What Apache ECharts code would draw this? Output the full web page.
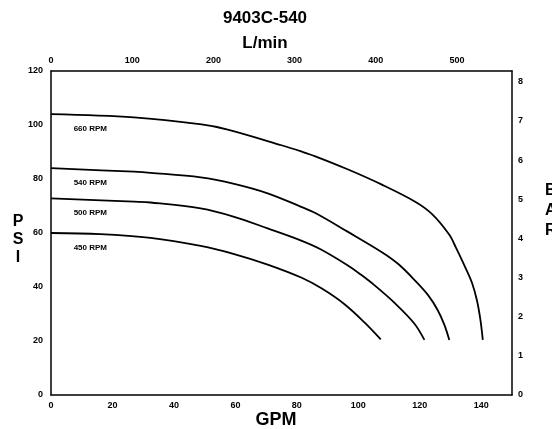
<!DOCTYPE html>
<html>
<head>
<meta charset="utf-8">
<script src="https://cdn.jsdelivr.net/npm/echarts@6/dist/echarts.min.js"></script>
<style>
  html, body { margin: 0; padding: 0; background: #fff; }
  #chart { width: 552px; height: 429px; }
</style>
</head>
<body>
<div id="chart"></div>
<script>
// pump curves: flow in GPM, pressure in PSI
const flow660 = [0, 27, 49, 57.5, 75, 81.4, 86, 96.5, 107.5, 118.5, 124, 129.5, 131.8, 134.5, 137, 138.6, 139.7, 140.5];
const psi660 = [104, 102.8, 100.2, 98.3, 92.5, 90.2, 88.4, 83.6, 78, 71.6, 67, 59.5, 54.5, 48, 41.5, 35, 28, 20.4];

const flow540 = [0, 27, 32.4, 48.7, 59.6, 70.5, 81.4, 86, 96.5, 107.8, 113, 118.8, 122.7, 125.8, 128, 129.6];
const psi540 = [84, 82.7, 82.3, 80.6, 78.2, 74.7, 69.7, 67.4, 60.5, 52.8, 48.5, 42, 37, 31.5, 26, 20.4];

const flow500 = [0, 27, 32.4, 48.7, 59.6, 70.5, 81.4, 87.7, 96.6, 100.8, 105.3, 111.7, 118.2, 121.5];
const psi500 = [72.8, 71.6, 71.3, 69.1, 66, 61.7, 57.2, 54, 48, 44.6, 40.6, 34.2, 26.5, 20.4];

const flow450 = [0, 16, 32.4, 48.7, 59.6, 70.5, 81.4, 88, 95.3, 101.9, 107.3];
const psi450 = [60, 59.6, 58.2, 55.2, 52.2, 48.3, 43.5, 39.5, 33.8, 27, 20.6];

const rpmNames = ['660 RPM', '540 RPM', '500 RPM', '450 RPM'];
const curves = [[flow660, psi660], [flow540, psi540], [flow500, psi500], [flow450, psi450]];

const GPM_MAX = 150;
const PSI_MAX = 120;
const LPM_PER_GPM = 3.785;
const PSI_PER_BAR = 14.5038;

const font = 'Arial, "Liberation Sans", sans-serif';
const tickLabel = { color: '#000', fontSize: 9, fontWeight: 'bold', fontFamily: font };
const frameLine = { show: true, onZero: false, lineStyle: { color: '#000', width: 1.5 } };

function pairs(xs, ys) {
  return xs.map((x, i) => [x, ys[i]]);
}

const series = curves.map(([xs, ys], i) => ({
  name: rpmNames[i],
  type: 'line',
  xAxisIndex: 0,
  yAxisIndex: 0,
  data: pairs(xs, ys),
  smooth: 0.35,
  showSymbol: false,
  symbol: 'none',
  lineStyle: { color: '#000', width: 1.8 },
  markPoint: {
    silent: true,
    symbol: 'rect',
    symbolSize: [1, 1],
    itemStyle: { color: 'rgba(0,0,0,0)' },
    label: {
      show: true,
      position: 'right',
      distance: 0,
      formatter: rpmNames[i],
      color: '#000',
      fontSize: 8,
      fontWeight: 'bold',
      fontFamily: font
    },
    data: [{ coord: [7.2, ys[0] - 5.5] }]
  }
}));

const chart = echarts.init(document.getElementById('chart'));
chart.setOption({
  animation: false,
  backgroundColor: '#fff',
  title: [
    { text: '9403C-540', left: 265, top: 8, textAlign: 'center', padding: 0,
      textStyle: { color: '#000', fontSize: 17, fontWeight: 'bold', fontFamily: font, lineHeight: 20 } },
    { text: 'L/min', left: 265, top: 33, textAlign: 'center', padding: 0,
      textStyle: { color: '#000', fontSize: 17, fontWeight: 'bold', fontFamily: font, lineHeight: 20 } },
    { text: 'GPM', left: 276, top: 410, textAlign: 'center', padding: 0,
      textStyle: { color: '#000', fontSize: 18, fontWeight: 'bold', fontFamily: font, lineHeight: 20 } },
    { text: 'P\nS\nI', left: 18, top: 213, textAlign: 'center', padding: 0,
      textStyle: { color: '#000', fontSize: 16, fontWeight: 'bold', fontFamily: font, lineHeight: 18 } },
    { text: 'B\nA\nR', left: 545, top: 181, textAlign: 'left', padding: 0,
      textStyle: { color: '#000', fontSize: 16, fontWeight: 'bold', fontFamily: font, lineHeight: 20 } }
  ],
  grid: { left: 51, right: 40, top: 71, bottom: 34, containLabel: false, outerBoundsMode: 'none' },
  xAxis: [
    {
      type: 'value', position: 'bottom', min: 0, max: GPM_MAX, interval: 20,
      axisLine: frameLine, axisTick: { show: false }, splitLine: { show: false },
      axisLabel: Object.assign({ margin: 6, showMaxLabel: false }, tickLabel)
    },
    {
      type: 'value', position: 'top', min: 0, max: GPM_MAX * LPM_PER_GPM, interval: 100,
      axisLine: frameLine, axisTick: { show: false }, splitLine: { show: false },
      axisLabel: Object.assign({ margin: 6, showMaxLabel: false }, tickLabel)
    }
  ],
  yAxis: [
    {
      type: 'value', position: 'left', min: 0, max: PSI_MAX, interval: 20,
      axisLine: frameLine, axisTick: { show: false }, splitLine: { show: false },
      axisLabel: Object.assign({ margin: 8 }, tickLabel)
    },
    {
      type: 'value', position: 'right', min: 0, max: PSI_MAX / PSI_PER_BAR, interval: 1,
      axisLine: frameLine, axisTick: { show: false }, splitLine: { show: false },
      axisLabel: Object.assign({ margin: 6, showMaxLabel: false }, tickLabel)
    }
  ],
  series: series
});
</script>
</body>
</html>
